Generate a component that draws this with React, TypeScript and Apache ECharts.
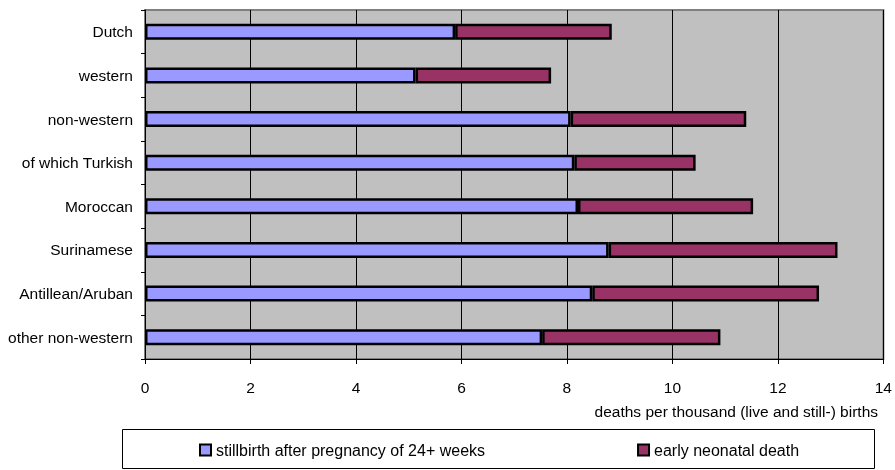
import React, { useEffect, useRef } from "react";
import * as echarts from "echarts";

const categories = [
  "Dutch",
  "western",
  "non-western",
  "of which Turkish",
  "Moroccan",
  "Surinamese",
  "Antillean/Aruban",
  "other non-western",
];
const stillbirth = [5.88, 5.13, 8.07, 8.14, 8.21, 8.79, 8.48, 7.53];
const neonatal = [2.97, 2.57, 3.33, 2.3, 3.32, 4.34, 4.3, 3.38];
const seriesNames = ["stillbirth after pregnancy of 24+ weeks", "early neonatal death"];
const axisTitle = "deaths per thousand (live and still-) births";

const FONT = "'Liberation Sans', Arial, sans-serif";

export default function App() {
  const ref = useRef<HTMLDivElement>(null);
  useEffect(() => {
    if (!ref.current) return;
    const chart = echarts.init(ref.current, null, { renderer: "svg" });
    chart.setOption({
      animation: false,
      textStyle: { fontFamily: FONT },
      grid: {
        left: 145,
        right: 9,
        top: 10,
        bottom: 111,
        show: true,
        backgroundColor: "#c0c0c0",
        borderColor: "#808080",
        borderWidth: 2,
      },
      xAxis: {
        type: "value",
        min: 0,
        max: 14,
        interval: 2,
        axisLine: { show: true, lineStyle: { color: "#000", width: 1 } },
        axisTick: { show: true, length: 5, lineStyle: { color: "#000" } },
        axisLabel: { margin: 20, color: "#000", fontSize: 15.5, fontFamily: FONT },
        splitLine: { show: true, lineStyle: { color: "#000", width: 1 } },
      },
      yAxis: {
        type: "category",
        inverse: true,
        data: categories,
        axisLine: { show: true, lineStyle: { color: "#000", width: 1 } },
        axisTick: { show: true, length: 4, lineStyle: { color: "#000" } },
        axisLabel: { margin: 12, color: "#000", fontSize: 15.5, fontFamily: FONT },
        splitLine: { show: false },
      },
      legend: {
        left: 194,
        top: 437,
        itemWidth: 11,
        itemHeight: 11,
        itemGap: 152,
        icon: "rect",
        textStyle: { color: "#000", fontSize: 16, fontFamily: FONT },
        itemStyle: { borderColor: "#000", borderWidth: 2 },
        data: seriesNames,
      },
      graphic: [
        {
          type: "rect",
          z: -1,
          shape: { x: 122.5, y: 429.5, width: 752, height: 39 },
          style: { fill: "#fff", stroke: "#000", lineWidth: 1 },
        },
        {
          type: "text",
          x: 878,
          y: 411,
          style: {
            text: axisTitle,
            fill: "#000",
            font: `15.5px ${FONT}`,
            textAlign: "right",
            textVerticalAlign: "middle",
          },
        },
      ],
      series: [
        {
          name: seriesNames[0],
          type: "bar",
          stack: "total",
          barWidth: 16,
          data: stillbirth,
          itemStyle: { color: "#9999ff", borderColor: "#000", borderWidth: 2.5 },
        },
        {
          name: seriesNames[1],
          type: "bar",
          stack: "total",
          barWidth: 16,
          data: neonatal,
          itemStyle: { color: "#993366", borderColor: "#000", borderWidth: 2.5 },
        },
      ],
    });
    return () => chart.dispose();
  }, []);
  return (
    <div
      ref={ref}
      style={{ position: "fixed", left: 0, top: 0, width: 895, height: 470 }}
    />
  );
}
